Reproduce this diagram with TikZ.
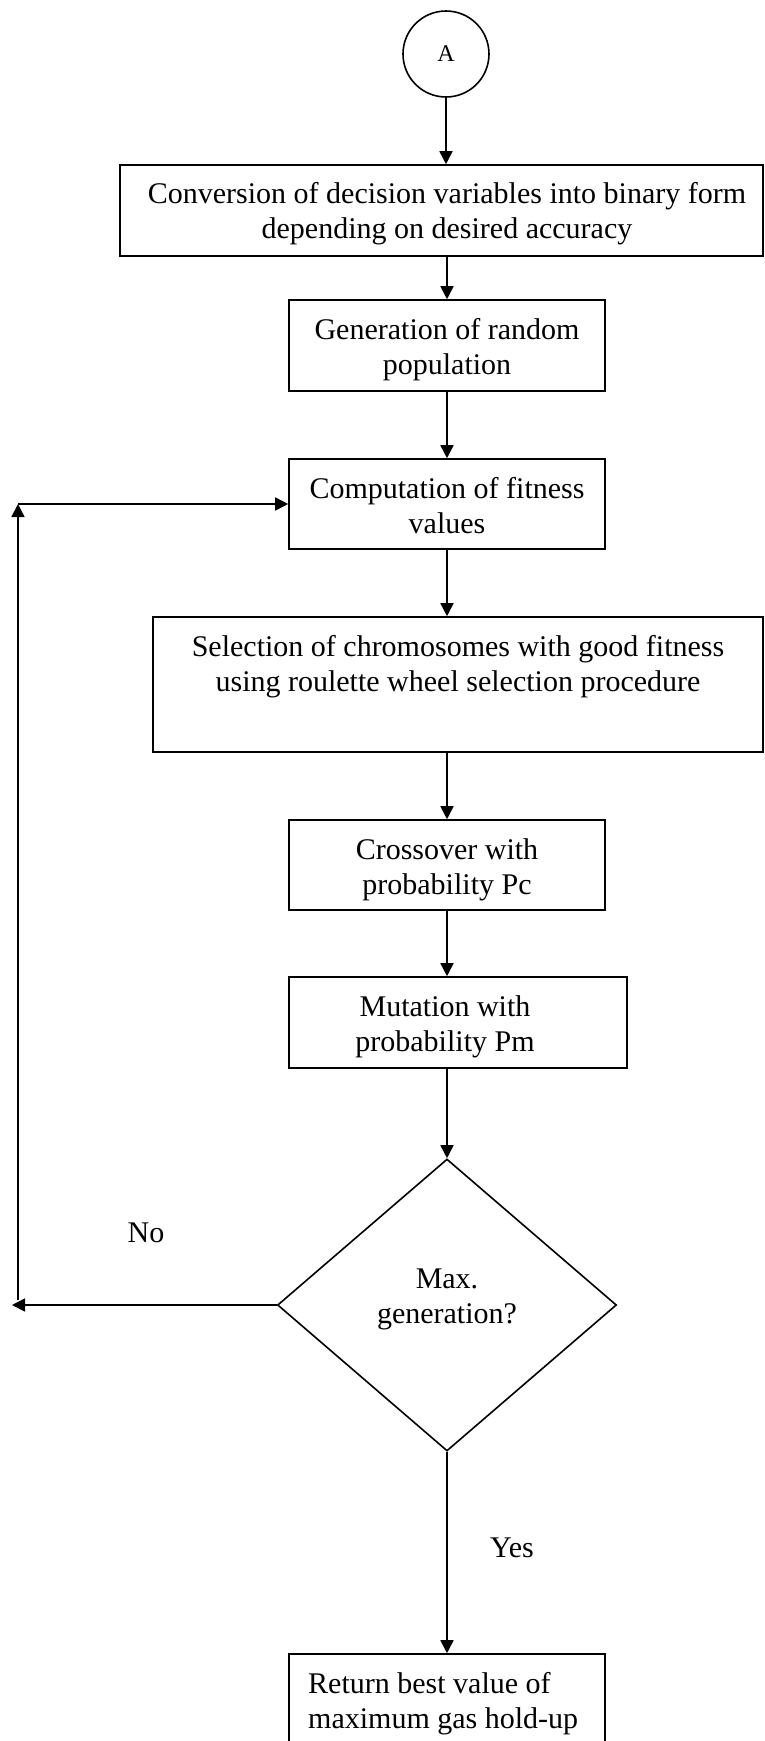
\documentclass[tikz,border=0pt]{standalone}
\usepackage{fontspec}
\setmainfont{Liberation Serif}
\usetikzlibrary{arrows.meta,shapes.geometric}
\begin{document}
\begin{tikzpicture}[x=1pt,y=-1pt,
  every node/.style={font=\fontsize{30}{35}\selectfont},
  box/.style={draw,line width=1.6pt,rectangle,inner sep=0pt},
  tx/.style={align=center,inner sep=0pt},
  arr/.style={line width=1.6pt,-{Triangle[length=13pt,width=13pt]}}]
\clip (0,0) rectangle (764,1741);
\node[circle,draw,line width=1.6pt,minimum size=86pt,inner sep=0pt,font=\fontsize{24}{28}\selectfont] (A) at (446,54) {A};
\node[box,minimum width=643pt,minimum height=91pt] (b1) at (441.5,210.5) {};
\node[tx] (t1) at (447,214) {Conversion of decision variables into binary form\\depending on desired accuracy};
\node[box,minimum width=316pt,minimum height=91pt] (b2) at (447,345.5) {};
\node[tx] (t2) at (447,350) {Generation of random\\population};
\node[box,minimum width=316pt,minimum height=90pt] (b3) at (447,504) {};
\node[tx] (t3) at (447,506) {Computation of fitness\\values};
\node[box,minimum width=610pt,minimum height=135pt] (b4) at (458,684.5) {};
\node[tx] (t4) at (458,666.5) {Selection of chromosomes with good fitness\\using roulette wheel selection procedure};
\node[box,minimum width=316pt,minimum height=90pt] (b5) at (447,865) {};
\node[tx] (t5) at (447,869.5) {Crossover with\\probability Pc};
\node[box,minimum width=338pt,minimum height=91pt] (b6) at (458,1022.5) {};
\node[tx] (t6) at (445,1027) {Mutation with\\probability Pm};
\node[diamond,draw,line width=1.6pt,minimum width=339pt,minimum height=292pt,inner sep=0pt] (d) at (447,1305) {};
\node[tx] (td) at (447,1299) {Max.\\generation?};
\node[box,minimum width=316pt,minimum height=90pt] (b7) at (447,1699) {};
\node[anchor=west,align=left,inner sep=0pt] (t7) at (308,1704) {Return best value of\\maximum gas hold-up};
\node (no) at (146,1233) {No};
\node (yes) at (512,1548) {Yes};
\coordinate (lb) at (12,1305);
\coordinate (lbot) at (18,1300);
\coordinate (lt) at (18,504);
\draw[arr] (A.south) -- (A.south |- b1.north);
\draw[arr] (b2.north |- b1.south) -- (b2.north);
\draw[arr] (b2.south) -- (b3.north);
\draw[arr] (b3.south) -- (b3.south |- b4.north);
\draw[arr] (b5.north |- b4.south) -- (b5.north);
\draw[arr] (b5.south) -- (b5.south |- b6.north);
\draw[arr] (d.north |- b6.south) -- (d.north);
\draw[arr] (d.south) -- (b7.north);
\draw[arr] (d.west) -- (lb);
\draw[arr] (lbot) -- (lt);
\draw[arr] (lt) -- (b3.west);
\end{tikzpicture}
\end{document}
